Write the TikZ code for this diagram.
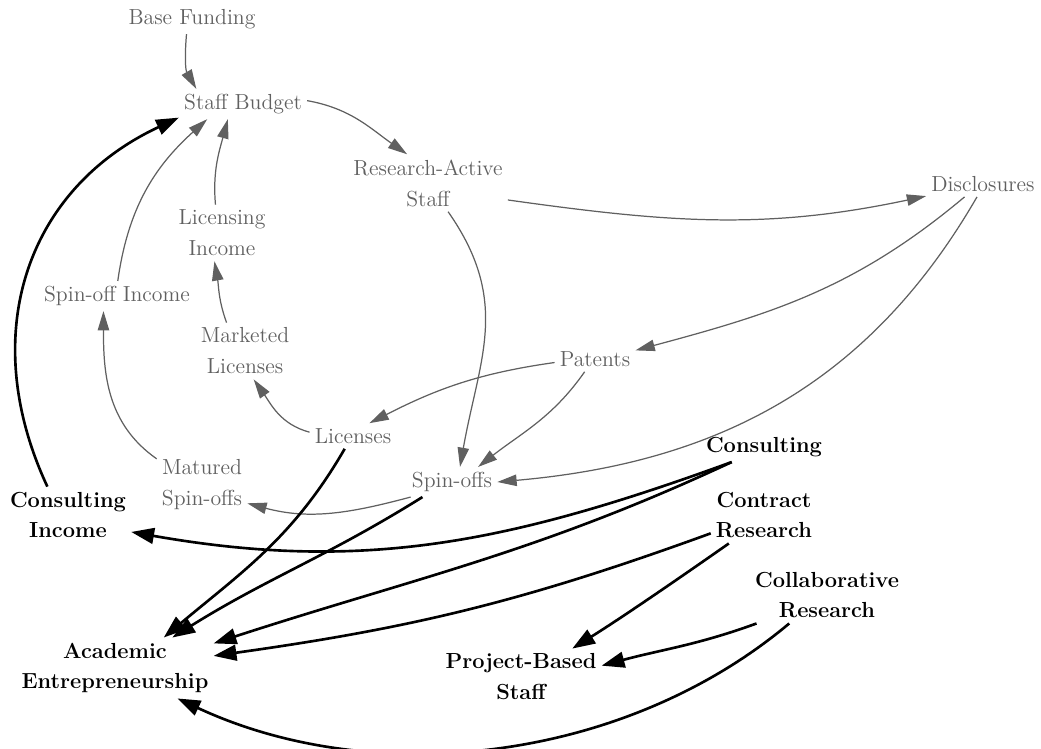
\documentclass[tikz,border=0pt]{standalone}
\usetikzlibrary{arrows.meta}
\definecolor{flowgray}{RGB}{96,96,96}

\begin{document}
\begin{tikzpicture}[x=0.02cm, y=0.02cm,
  stock/.style={text=flowgray, font=\fontsize{12.4}{17.6}\selectfont},
  driver/.style={text=black, font=\fontsize{12.4}{17.6}\selectfont\bfseries},
  flow/.style={draw=flowgray, line width=0.7pt, -{Triangle[length=11pt,width=6.5pt]}},
  push/.style={draw=black, line width=1.5pt, -{Triangle[length=13pt,width=9pt]}}]
\tikzstyle{every node}+=[inner sep=2.8pt, align=center]
\useasboundingbox (0,0) rectangle (1041,-749);
\node [stock] (bf) at (192,-19) {Base Funding};
\node [stock] (sb) at (243,-104) {Staff Budget};
\node [stock] (ras) at (428,-183) {Research-Active\\Staff};
\node [stock] (disc) at (983,-184) {Disclosures};
\node [stock] (li) at (222,-233) {Licensing\\Income};
\node [stock] (soi) at (117,-296) {Spin-off Income};
\node [stock] (ml) at (245,-351) {Marketed\\Licenses};
\node [stock] (pat) at (595,-359) {Patents};
\node [stock] (lic) at (353,-436) {Licenses};
\node [stock] (mso) at (202,-485) {Matured\\Spin-offs};
\node [stock] (so) at (452,-482) {Spin-offs};
\node [driver] (ci) at (68,-515) {Consulting\\Income};
\node [driver] (con) at (764,-447) {Consulting};
\node [driver] (cr) at (764,-515) {Contract\\Research};
\node [driver] (col) at (827,-595) {Collaborative\\Research};
\node [driver] (ae) at (115,-668) {Academic\\Entrepreneurship};
\node [driver] (pbs) at (521,-677) {Project-Based\\Staff};
\draw [flow] (bf.-110) to[out=-95,in=120] (sb.162);
\draw [flow] (sb.3) to[out=-10,in=145] (ras.126);
\draw [flow] (ras.-12) to[out=-8,in=-168] (disc.-168);
\draw [flow] (disc.-145) to[out=-140,in=15] (pat.12);
\draw [flow] (disc.-115) to[out=-120,in=5] (so.0);
\draw [flow] (ras.-55) to[out=-55,in=80,looseness=1.1] (so.62);
\draw [flow] (pat.-175) to[out=-172,in=27] (lic.38);
\draw [flow] (pat.-129) to[out=-125,in=38] (so.30);
\draw [flow] (lic.175) to[out=165,in=-55] (ml.-73);
\draw [flow] (ml.123) to[out=110,in=-80] (li.-105);
\draw [flow] (li.103) to[out=95,in=-105] (sb.-135);
\draw [flow] (soi.87) to[out=82,in=-138] (sb.-157);
\draw [flow] (mso.150) to[out=145,in=-90] (soi.-132);
\draw [flow] (so.-160) to[out=-165,in=-15] (mso.-22);
\draw [push] (ci.126) to[out=115,in=-155,looseness=1.1] (sb.-168);
\draw [push] (con.-155) to[out=-160,in=-10] (ci.-15);
\draw [push] (con.-155) to[out=-155,in=18] (ae.14);
\draw [push] (cr.-161) to[out=-160,in=8] (ae.7.5);
\draw [push] (cr.-141) to[out=-145,in=32,looseness=0.8] (pbs.29);
\draw [push] (col.-158) to[out=-160,in=15] (pbs.8.6);
\draw [push] (col.-143) to[out=-140,in=-25,looseness=0.9] (ae.-26);
\draw [push] (lic.-123) to[out=-120,in=40] (ae.32.5);
\draw [push] (so.-153) to[out=-148,in=32] (ae.28);
\end{tikzpicture}
\end{document}
